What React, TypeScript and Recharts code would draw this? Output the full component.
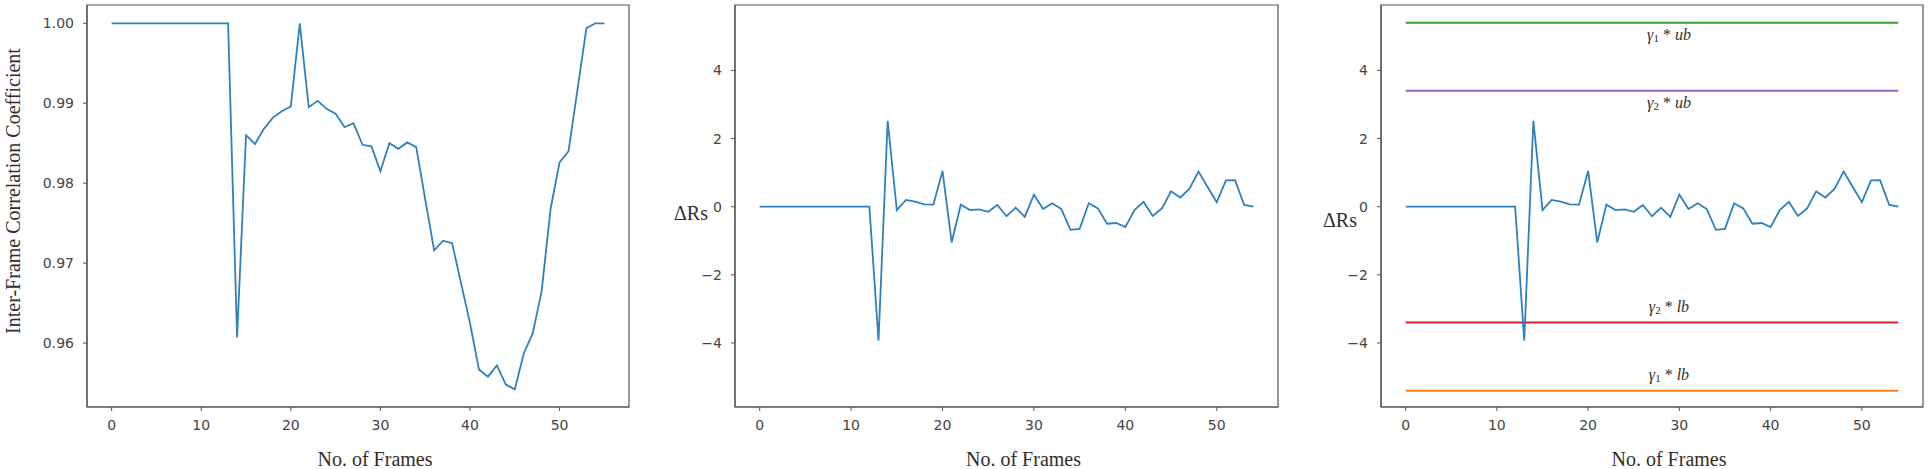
import React from "react";
import { LineChart, Line, XAxis, YAxis, ReferenceArea, ReferenceLine } from "recharts";

// Inter-frame correlation coefficient, frames 0..55
const coeff = [
  1, 1, 1, 1, 1, 1, 1, 1, 1, 1, 1, 1, 1, 1,
  0.9607, 0.986, 0.9849, 0.9868, 0.9882, 0.989, 0.9896, 1.0, 0.9895, 0.9903,
  0.9893, 0.9887, 0.987, 0.9875, 0.9848, 0.9846, 0.9815, 0.985, 0.9843, 0.9851,
  0.9845, 0.978, 0.9716, 0.9728, 0.9725, 0.9675, 0.9625, 0.9567, 0.9558, 0.9572,
  0.9548, 0.9542, 0.9587, 0.9612, 0.9665, 0.9768, 0.9826, 0.984, 0.9917, 0.9994,
  1.0, 1.0,
];

// ΔRs, frames 0..54
const deltaRs = [
  0, 0, 0, 0, 0, 0, 0, 0, 0, 0, 0, 0, 0,
  -3.93, 2.52, -0.1, 0.2, 0.15, 0.07, 0.06, 1.05, -1.05, 0.06, -0.1, -0.08,
  -0.15, 0.05, -0.28, -0.03, -0.3, 0.35, -0.07, 0.1, -0.07, -0.68, -0.65, 0.1,
  -0.05, -0.5, -0.48, -0.6, -0.1, 0.14, -0.27, -0.05, 0.45, 0.27, 0.52, 1.03,
  0.58, 0.13, 0.77, 0.78, 0.05, 0.0,
];

const frameTicks = [0, 10, 20, 30, 40, 50];
const coeffTicks = [0.96, 0.97, 0.98, 0.99, 1.0];
const deltaTicks = [-4, -2, 0, 2, 4];

// threshold bands: gamma index, bound name, value
const boundGamma = ["1", "2", "2", "1"];
const boundName = ["ub", "ub", "lb", "lb"];
const boundValue = [5.4, 3.4, -3.4, -5.4];
const boundColors = ["#2ca02c", "#9467bd", "#d62728", "#ff7f0e"];

const coeffData = coeff.map((v, i) => ({ frame: i, v }));
const deltaData = deltaRs.map((v, i) => ({ frame: i, v }));

const BLUE = "#2f80bd";
const SPINE = "#555";
const TICK_FONT = { fontFamily: "DejaVu Sans, sans-serif", fontSize: 14, fill: "#444" };
const SERIF = "Liberation Serif, Times New Roman, serif";
const LABEL_COLOR = "#332d28";

const xLabel = (props: any) => {
  const vb = props.viewBox;
  return (
    <text
      x={vb.x + vb.width / 2 + 17}
      y={vb.y + 52}
      textAnchor="middle"
      dominantBaseline="central"
      fontFamily={SERIF}
      fontSize={20}
      fill={LABEL_COLOR}
    >
      No. of Frames
    </text>
  );
};

const deltaLabel = (dx: number, y: number) => (props: any) => {
  const vb = props.viewBox;
  return (
    <text
      x={vb.x + dx}
      y={y}
      textAnchor="middle"
      dominantBaseline="central"
      fontFamily={SERIF}
      fontSize={20}
      fill={LABEL_COLOR}
    >
      ΔRs
    </text>
  );
};

const coeffLabel = (props: any) => {
  const vb = props.viewBox;
  const cx = vb.x - 14;
  const cy = vb.y + vb.height / 2 - 15;
  return (
    <text
      x={cx}
      y={cy}
      transform={`rotate(-90 ${cx} ${cy})`}
      textAnchor="middle"
      dominantBaseline="central"
      fontFamily={SERIF}
      fontSize={20}
      fill={LABEL_COLOR}
    >
      Inter-Frame Correlation Coefficient
    </text>
  );
};

const boundLabel = (i: number) => (props: any) => {
  const vb = props.viewBox;
  const upper = boundValue[i] > 0;
  return (
    <text
      x={vb.x + vb.width / 2 + 17}
      y={vb.y + (upper ? 11 : -17)}
      textAnchor="middle"
      dominantBaseline="central"
      fontFamily={SERIF}
      fontSize={16}
      fill={LABEL_COLOR}
    >
      <tspan fontStyle="italic">γ</tspan>
      <tspan fontSize={11} dy={4}>{boundGamma[i]}</tspan>
      <tspan dy={-4}> * </tspan>
      <tspan fontStyle="italic">{boundName[i]}</tspan>
    </text>
  );
};

const fmtMinus = (v: number) => (v < 0 ? `\u2212${Math.abs(v)}` : `${v}`);

type PanelProps = {
  left: number;
  width: number;
  marginLeft: number;
  marginRight: number;
  data: { frame: number; v: number }[];
  xDomain: [number, number];
  yDomain: [number, number];
  yTicks: number[];
  yFormat: (v: number) => string;
  yLabel: (p: any) => React.ReactElement;
  bounds?: boolean;
};

const Panel: React.FC<PanelProps> = (p) => (
  <div style={{ position: "absolute", left: p.left, top: 0 }}>
    <LineChart
      width={p.width}
      height={469}
      data={p.data}
      margin={{ top: 5, right: p.marginRight, left: p.marginLeft, bottom: 32 }}
    >
      <XAxis
        dataKey="frame"
        type="number"
        domain={p.xDomain}
        ticks={frameTicks}
        allowDataOverflow
        height={30}
        tickSize={4}
        tickMargin={9}
        axisLine={{ stroke: SPINE, strokeWidth: 1.2 }}
        tickLine={{ stroke: SPINE }}
        tick={TICK_FONT}
        label={xLabel}
      />
      <YAxis
        type="number"
        domain={p.yDomain}
        ticks={p.yTicks}
        allowDataOverflow
        width={60}
        tickSize={4}
        tickMargin={9}
        tickFormatter={p.yFormat}
        axisLine={{ stroke: SPINE, strokeWidth: 1.2 }}
        tickLine={{ stroke: SPINE }}
        tick={TICK_FONT}
        label={p.yLabel}
      />
      <ReferenceArea
        x1={p.xDomain[0]}
        x2={p.xDomain[1]}
        y1={p.yDomain[0]}
        y2={p.yDomain[1]}
        fill="none"
        stroke={SPINE}
        strokeWidth={1.2}
        ifOverflow="visible"
      />
      {p.bounds &&
        boundValue.map((b, i) => (
          <ReferenceLine
            key={i}
            segment={[
              { x: 0, y: b },
              { x: p.data.length - 1, y: b },
            ]}
            stroke={boundColors[i]}
            strokeWidth={2}
            ifOverflow="visible"
            label={boundLabel(i)}
          />
        ))}
      <Line
        dataKey="v"
        type="linear"
        stroke={BLUE}
        strokeWidth={1.8}
        dot={false}
        isAnimationActive={false}
      />
    </LineChart>
  </div>
);

export default function App() {
  return (
    <div style={{ position: "absolute", left: 0, top: 0, width: 1930, height: 469, background: "#fff" }}>
      <Panel
        left={0}
        width={640}
        marginLeft={27}
        marginRight={11}
        data={coeffData}
        xDomain={[-2.75, 57.75]}
        yDomain={[0.952, 1.00229]}
        yTicks={coeffTicks}
        yFormat={(v) => v.toFixed(2)}
        yLabel={coeffLabel}
      />
      <Panel
        left={640}
        width={640}
        marginLeft={35}
        marginRight={2}
        data={deltaData}
        xDomain={[-2.7, 56.7]}
        yDomain={[-5.88, 5.92]}
        yTicks={deltaTicks}
        yFormat={fmtMinus}
        yLabel={deltaLabel(16, 213)}
      />
      <Panel
        left={1280}
        width={650}
        marginLeft={41}
        marginRight={7}
        data={deltaData}
        xDomain={[-2.7, 56.7]}
        yDomain={[-5.88, 5.92]}
        yTicks={deltaTicks}
        yFormat={fmtMinus}
        yLabel={deltaLabel(19, 220)}
        bounds
      />
    </div>
  );
}
